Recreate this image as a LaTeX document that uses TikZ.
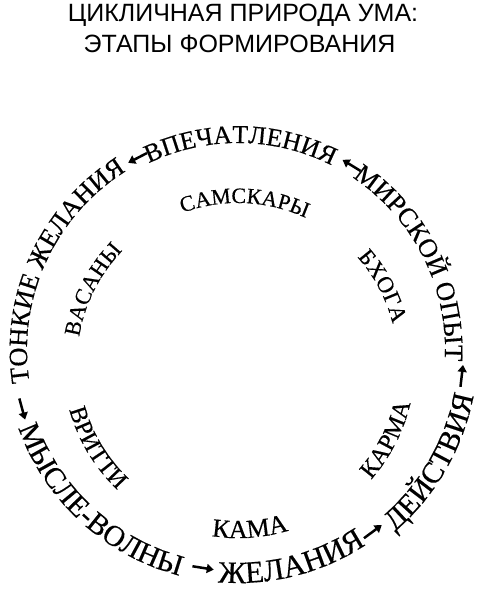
\documentclass[tikz,border=0pt]{standalone}
\usepackage{fontspec}
\setmainfont{Liberation Serif}[FakeBold=0.4]
\newfontfamily\titlefont{Liberation Sans}
\usepackage{tikz}
\usetikzlibrary{arrows.meta, decorations.text}

\tikzset{
  ringlabel/.style 2 args={decorate, decoration={text along path, text align=center, text={|\fontsize{#1}{#1}\selectfont|#2}}},
  titletext/.style={anchor=base, inner sep=0pt, font=\titlefont\fontsize{25}{28}\selectfont},
  cyclearrow/.style={line width=2.5pt, -{Triangle[length=7pt,width=9pt]}},
}

\begin{document}
\begin{tikzpicture}[x=1pt,y=1pt]
                \useasboundingbox (0,0) rectangle (481,590);
                % Title
                \node[titletext] (title1) at (243,568) {ЦИКЛИЧНАЯ ПРИРОДА УМА:};
                \node[titletext] (title2) at (239.5,537) {ЭТАПЫ ФОРМИРОВАНИЯ};
                % Ring centres
                \coordinate (oc) at (238,240);
                \coordinate (ic) at (238,227);
                % Outer ring, upper half
                \path[ringlabel={25.7}{ВПЕЧАТЛЕНИЯ}] ([shift={(oc)}]139.3:207) arc[start angle=139.3, end angle=39.3, radius=207];
                \path[ringlabel={26.5}{МИРСКОЙ ОПЫТ}] ([shift={(oc)}]76.7:207) arc[start angle=76.7, end angle=-23.3, radius=207];
                \path[ringlabel={26.4}{ТОНКИЕ ЖЕЛАНИЯ}] ([shift={(oc)}]205.4:211) arc[start angle=205.4, end angle=105.4, radius=211];
                % Outer ring, lower half
                \path[ringlabel={29.5}{МЫСЛЕ-ВОЛНЫ}] ([shift={(oc)}]177.5:233) arc[start angle=177.5, end angle=277.5, radius=233];
                \path[ringlabel={31}{ЖЕЛАНИЯ}] ([shift={(oc)}]234.2:233) arc[start angle=234.2, end angle=334.2, radius=233];
                \path[ringlabel={30}{ДЕЙСТВИЯ}] ([shift={(oc)}]279.9:240) arc[start angle=279.9, end angle=379.9, radius=240];
                % Inner ring
                \path[ringlabel={22}{САМСКАРЫ}] ([shift={(ic)}]137.6:160) arc[start angle=137.6, end angle=37.6, radius=160];
                \path[ringlabel={23}{БХОГА}] ([shift={(ic)}]77.9:159.5) arc[start angle=77.9, end angle=-22.1, radius=159.5];
                \path[ringlabel={22.5}{ВАСАНЫ}] ([shift={(ic)}]203.2:161) arc[start angle=203.2, end angle=103.2, radius=161];
                \path[ringlabel={24.5}{КАРМА}] ([shift={(ic)}]282.8:177) arc[start angle=282.8, end angle=382.8, radius=177];
                \path[ringlabel={26}{КАМА}] ([shift={(ic)}]224.1:175) arc[start angle=224.1, end angle=324.1, radius=175];
                \path[ringlabel={24.5}{ВРИТТИ}] ([shift={(ic)}]161:175) arc[start angle=161, end angle=261, radius=175];
                % Arrows between the stages
                \foreach \ang/\rad/\n in {195.3/224/a, 260.9/221/b, 306.6/226.5/c, 353.4/225.5/d, 58.4/217/e, 117.6/217/f}{
                  \coordinate (s\n) at ([shift={(oc)}]\ang-2.8:\rad);
                  \coordinate (e\n) at ([shift={(oc)}]\ang+2.8:\rad);
                  \draw[cyclearrow] (s\n) -- (e\n);
                }
\end{tikzpicture}
\end{document}
